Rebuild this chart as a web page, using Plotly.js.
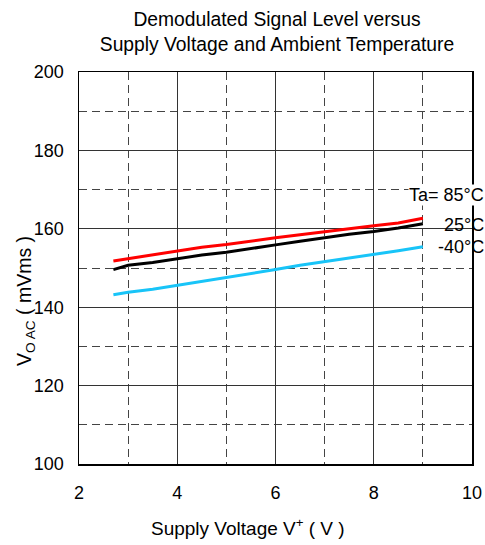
<!DOCTYPE html>
<html><head><meta charset="utf-8">
<script src="https://cdn.plot.ly/plotly-3.0.1.min.js"></script>
<style>html,body{margin:0;padding:0;background:#fff}#c{width:485px;height:545px}</style>
</head><body><div id="c"></div>
<script>
const voltage = [2.7, 3.0, 3.5, 4.0, 4.5, 5.0, 5.5, 6.0, 6.5, 7.0, 7.5, 8.0, 8.5, 9.0];
const ta85 = [151.8, 152.4, 153.4, 154.4, 155.3, 156.0, 156.9, 157.7, 158.5, 159.3, 160.1, 160.8, 161.5, 162.7];
const ta25 = [149.6, 150.7, 151.4, 152.3, 153.3, 154.0, 155.0, 155.9, 156.8, 157.7, 158.6, 159.3, 160.2, 161.3];
const taM40 = [143.2, 143.8, 144.6, 145.6, 146.5, 147.6, 148.6, 149.6, 150.7, 151.6, 152.6, 153.5, 154.4, 155.4];
const seriesLabels = ["Ta= 85°C", "25°C", "-40°C"];
const labelY = [168.6, 160.9, 155.4];

const fam = "Liberation Sans, Arial, sans-serif";
const f = (s) => ({family: fam, color: "#000", size: s});
const traces = [
  {x: voltage, y: ta85, mode: "lines", line: {color: "#ff0000", width: 3}, name: seriesLabels[0]},
  {x: voltage, y: ta25, mode: "lines", line: {color: "#000000", width: 3}, name: seriesLabels[1]},
  {x: voltage, y: taM40, mode: "lines", line: {color: "#18c4f8", width: 3}, name: seriesLabels[2]}
];
const pw = 485 - 79 - 13, ph = 545 - 72 - 81;
const annotations = seriesLabels.map((t, i) => ({
  x: (485 - 79) / pw, y: labelY[i], xref: "paper", yref: "y", text: t, showarrow: false,
  xanchor: "right", yanchor: "middle", font: f(18), bgcolor: i === 0 ? "#fff" : "rgba(0,0,0,0)", borderpad: 0
}));
annotations.push({x: (248 - 79) / pw, y: (545 - 81 - 527) / ph, xref: "paper", yref: "paper",
  text: "Supply Voltage V<sup>+</sup> ( V )", showarrow: false, xanchor: "center", yanchor: "middle", font: f(19)});
annotations.push({x: (25 - 79) / pw, y: (545 - 81 - 301) / ph, xref: "paper", yref: "paper",
  text: "V<sub>O AC</sub> ( mVms )", showarrow: false, textangle: -90, xanchor: "center", yanchor: "middle", font: f(19.5)});
const layout = {
  width: 485, height: 545,
  margin: {l: 79, r: 13, t: 72, b: 81},
  paper_bgcolor: "#fff", plot_bgcolor: "#fff",
  showlegend: false,
  font: f(18),
  title: {text: "Demodulated Signal Level versus<br>Supply Voltage and Ambient Temperature",
          font: f(19.3), x: 277 / 485, xanchor: "center", y: 0.952, yanchor: "top"},
  xaxis: {range: [2, 10], dtick: 2, tick0: 2, showline: true, mirror: true, linecolor: "#000", linewidth: 1.5,
          showgrid: true, gridcolor: "#333", gridwidth: 1, zeroline: false, ticks: "", ticklabelstandoff: 12,
          tickfont: f(18),
          minor: {dtick: 1, showgrid: true, griddash: "8px,5px", gridcolor: "#444", gridwidth: 1}},
  yaxis: {range: [100, 200], dtick: 20, tick0: 100, showline: true, mirror: true, linecolor: "#000", linewidth: 1.5,
          showgrid: true, gridcolor: "#333", gridwidth: 1, zeroline: false, ticks: "", ticklabelstandoff: 10,
          tickfont: f(18),
          minor: {dtick: 10, showgrid: true, griddash: "8px,5px", gridcolor: "#444", gridwidth: 1}},
  annotations: annotations
};
Plotly.newPlot("c", traces, layout, {displayModeBar: false, staticPlot: true});
</script></body></html>
